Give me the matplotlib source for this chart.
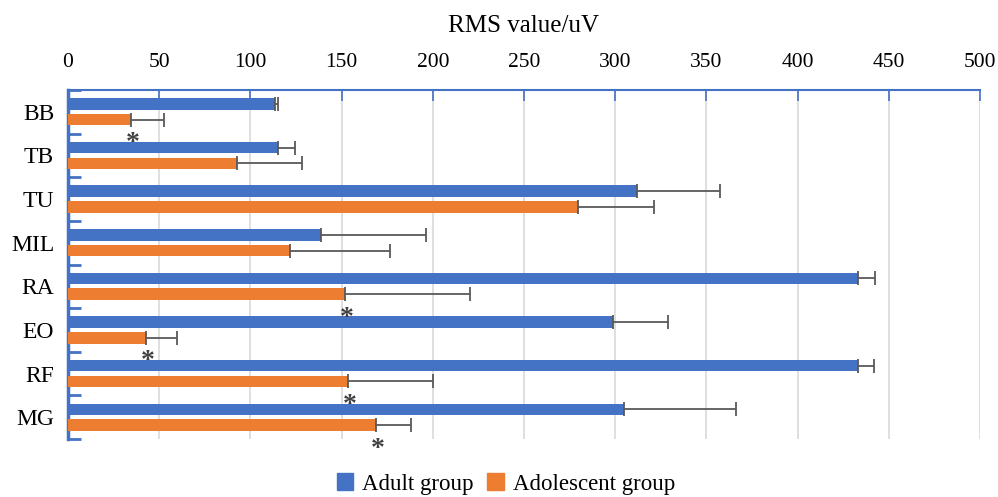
import matplotlib
matplotlib.use("Agg")
import matplotlib.pyplot as plt
import numpy as np
from matplotlib.patches import Patch

categories = ["BB", "TB", "TU", "MIL", "RA", "EO", "RF", "MG"]
adult = [113.5, 115, 312, 138.5, 433, 299, 433, 305]
adult_err = [1.5, 9.5, 45.5, 57.5, 9.5, 30, 9, 61.5]
adolescent = [34.5, 92.5, 279.5, 121.7, 152, 42.5, 153.5, 169]
adolescent_err = [18, 36, 41.5, 54.8, 68.5, 17.5, 46.5, 19]
significant = [True, False, False, False, True, True, True, True]
xticks = [0, 50, 100, 150, 200, 250, 300, 350, 400, 450, 500]

plt.rcParams['font.family'] = ['Liberation Serif', 'DejaVu Serif']

W, H = 998, 497
fig = plt.figure(figsize=(W / 100, H / 100), dpi=100)
ax = fig.add_axes([68 / W, 1 - 439 / H, (980 - 68) / W, (439 - 90) / H])

blue = "#4472C4"
orange = "#ED7D31"
errc = "#595959"

y = np.arange(len(categories))
off = 0.18
h = 0.265
ekw = dict(ecolor=errc, elinewidth=1.3, capsize=5, capthick=1.3)
ax.barh(y - off, adult, height=h, color=blue,
        xerr=[np.zeros(len(adult)), adult_err], error_kw=ekw, zorder=3)
ax.barh(y + off, adolescent, height=h, color=orange,
        xerr=[np.zeros(len(adolescent)), adolescent_err], error_kw=ekw, zorder=3)

for i, s in enumerate(significant):
    if s:
        ax.text(adolescent[i] + 1, i + off + 0.55, "*", ha="center", va="center",
                fontsize=20, color="#404040", fontweight="bold", zorder=4, clip_on=False)

ax.set_xlim(0, 500)
ax.set_ylim(len(categories) - 0.5, -0.5)
ax.xaxis.tick_top()
ax.xaxis.set_label_position("top")
ax.set_xticks(xticks)
ax.set_xticklabels([str(t) for t in xticks], fontsize=15.5)
ax.tick_params(axis="x", direction="in", length=8, width=1.2, color=blue, pad=13)
ax.set_xlabel("RMS value/uV", fontsize=18, labelpad=15)

ax.set_yticks(y)
ax.set_yticklabels(categories, fontsize=17)
ax.set_yticks(np.arange(-0.5, len(categories) + 0.5, 1), minor=True)
ax.tick_params(axis="y", which="major", length=0, pad=10)
ax.tick_params(axis="y", which="minor", direction="in", length=9, width=2, color=blue)

ax.grid(axis="x", color="#D9D9D9", linewidth=1.2, zorder=0)
ax.set_axisbelow(True)
for side in ["right", "bottom"]:
    ax.spines[side].set_visible(False)
ax.spines["top"].set_color(blue)
ax.spines["top"].set_linewidth(1.5)
ax.spines["left"].set_color(blue)
ax.spines["left"].set_linewidth(2.5)

handles = [Patch(color=blue, label="Adult group"), Patch(color=orange, label="Adolescent group")]
fig.legend(handles=handles, loc="center", bbox_to_anchor=(506 / W, 1 - 484 / H), ncol=2,
           frameon=False, fontsize=16.5, handlelength=0.7, handleheight=0.7,
           handletextpad=0.4, columnspacing=0.6, borderpad=0.1)

fig.savefig("out.png", dpi=100)
